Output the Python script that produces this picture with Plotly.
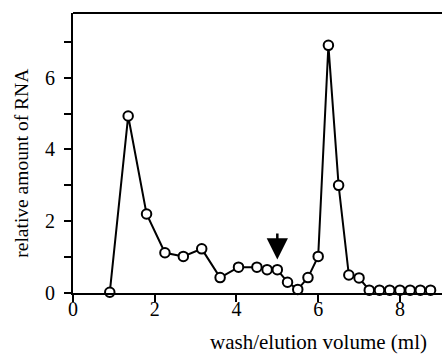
import plotly.graph_objects as go

volume_ml = [0.9, 1.35, 1.8, 2.25, 2.7, 3.15, 3.6, 4.05, 4.5, 4.75, 5.0, 5.25,
             5.5, 5.75, 6.0, 6.25, 6.5, 6.75, 7.0, 7.25, 7.5, 7.75, 8.0, 8.25,
             8.5, 8.75]
relative_rna = [0.02, 4.93, 2.2, 1.12, 1.02, 1.23, 0.43, 0.72, 0.72, 0.65, 0.65,
                0.3, 0.1, 0.43, 1.02, 6.9, 3.0, 0.5, 0.42, 0.08, 0.08, 0.08,
                0.08, 0.08, 0.08, 0.08]
arrow_x = 5.0
arrow_tip_y = 0.93
arrow_tail_y = 1.7

x_ticks = [0, 2, 4, 6, 8]
y_ticks = [0, 1, 2, 3, 4, 5, 6, 7]
y_ticklabels = ["0", "", "2", "", "4", "", "6", ""]
x_title = "wash/elution volume (ml)"
y_title = "relative amount of RNA"

font = "Liberation Serif"

fig = go.Figure()
fig.add_trace(go.Scatter(
    x=volume_ml, y=relative_rna, mode="lines+markers",
    line=dict(color="black", width=2),
    marker=dict(symbol="circle", size=9.5, color="white",
                line=dict(color="black", width=2)),
    cliponaxis=False, showlegend=False,
))

fig.add_annotation(
    x=arrow_x, y=arrow_tip_y, ax=arrow_x, ay=arrow_tail_y,
    xref="x", yref="y", axref="x", ayref="y",
    text="", showarrow=True, arrowhead=2, arrowsize=1.7, arrowwidth=2.5,
    arrowcolor="black", standoff=0,
)

# axis titles (placed off-centre as in the reference)
fig.add_annotation(
    text=x_title, xref="paper", yref="paper", x=0.665, y=-0.175,
    xanchor="center", yanchor="middle", showarrow=False,
    font=dict(family=font, size=21, color="black"),
)
fig.add_annotation(
    text=y_title, xref="paper", yref="paper", x=-0.138, y=0.462,
    xanchor="center", yanchor="middle", showarrow=False, textangle=-90,
    font=dict(family=font, size=19.5, color="black"),
)

fig.update_layout(
    width=443, height=354,
    margin=dict(l=73, r=1, t=13, b=61),
    paper_bgcolor="white", plot_bgcolor="white",
    font=dict(family=font, size=20, color="black"),
    xaxis=dict(
        range=[0, 9.03], tickvals=x_ticks, ticktext=[str(v) for v in x_ticks],
        ticks="outside", ticklen=7, tickwidth=2, tickcolor="black",
        showline=True, linecolor="black", linewidth=2, mirror=False,
        showgrid=False, zeroline=False,
        tickfont=dict(family=font, size=20),
        ticklabelstandoff=-10,
    ),
    yaxis=dict(
        range=[0, 7.8], tickvals=y_ticks, ticktext=y_ticklabels,
        ticks="outside", ticklen=7, tickwidth=2, tickcolor="black",
        showline=True, linecolor="black", linewidth=2,
        showgrid=False, zeroline=False,
        tickfont=dict(family=font, size=20),
        ticklabelstandoff=5,
    ),
    shapes=[dict(type="line", xref="paper", yref="paper", x0=0, x1=1, y0=1, y1=1,
                 line=dict(color="black", width=2))],
)

fig.write_html("out.html", config={"displayModeBar": False},
               post_script="document.body.style.margin='0';")
